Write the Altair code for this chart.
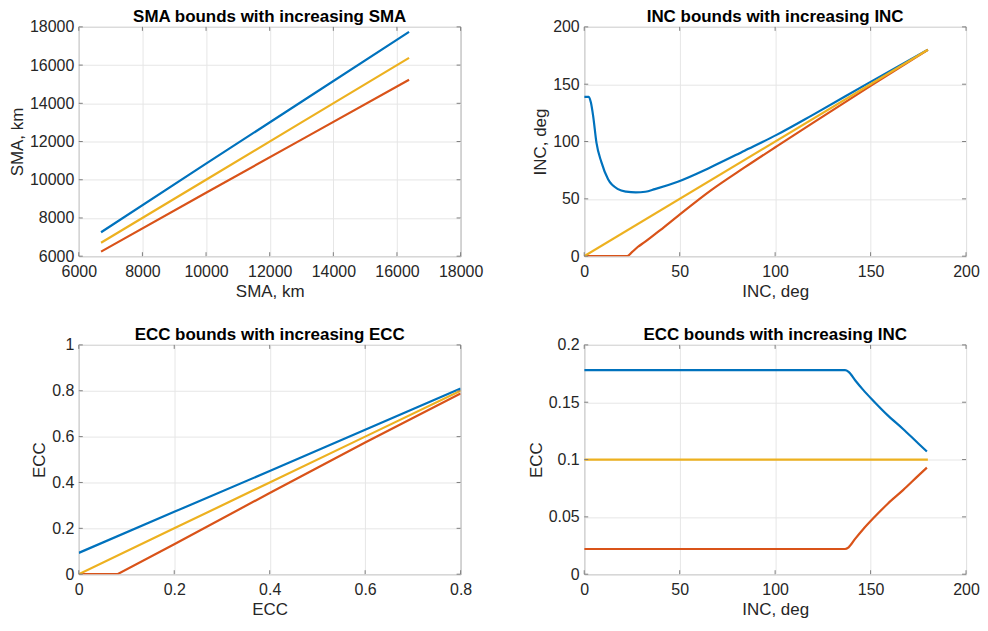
import altair as alt
import pandas as pd

# ---------------- data ----------------
# Panel 1: SMA bounds with increasing SMA
sma_x = [6700, 10000, 13000, 16380]
sma_upper = [7250, 10840, 14080, 17740]
sma_nominal = [6700, 10000, 13000, 16380]
sma_lower = [6240, 9320, 12100, 15235]

# Panel 2: INC bounds with increasing INC
inc_upper_x = [0, 2.4, 3.5, 4.7, 6.4, 9, 12.5, 17.7, 22, 27, 32, 37, 49, 66, 84, 101, 120, 150, 180]
inc_upper_y = [139, 139, 134, 122, 99, 82, 67, 58.5, 56.3, 55.6, 56.2, 58.5, 65, 77.4, 92, 106, 123.5, 152, 180]
inc_nominal_x = [0, 180]
inc_nominal_y = [0, 180]
inc_lower_x = [0, 22.5, 25, 28, 31.6, 40, 49, 66, 84, 101, 120, 150, 180]
inc_lower_y = [0, 0, 3.5, 8, 12.2, 23, 35, 57, 77.4, 96, 116.5, 148.5, 180]

# Panel 3: ECC bounds with increasing ECC
ecc_x = [0, 0.2, 0.4, 0.6, 0.8]
ecc_upper = [0.093, 0.272, 0.45, 0.63, 0.81]
ecc_nominal = [0, 0.2, 0.4, 0.6, 0.8]
ecc_lower_x = [0, 0.081, 0.2, 0.4, 0.6, 0.8]
ecc_lower = [0, 0, 0.131, 0.354, 0.574, 0.788]

# Panel 4: ECC bounds with increasing INC
ei_upper_x = [0, 136.6, 138.5, 142, 146, 151.4, 159, 167, 175, 179.5]
ei_upper_y = [0.178, 0.178, 0.1765, 0.169, 0.161, 0.1513, 0.1385, 0.1267, 0.114, 0.107]
ei_nominal_x = [0, 180]
ei_nominal_y = [0.1, 0.1]
ei_lower_x = [0, 136.6, 138.5, 142, 146, 151.4, 159, 167, 175, 179.5]
ei_lower_y = [0.022, 0.022, 0.0235, 0.031, 0.039, 0.0487, 0.0615, 0.0733, 0.086, 0.093]

# tick values
sma_ticks = [6000, 8000, 10000, 12000, 14000, 16000, 18000]
deg_ticks = [0, 50, 100, 150, 200]
ecc_xticks = [0, 0.2, 0.4, 0.6, 0.8]
ecc_yticks = [0, 0.2, 0.4, 0.6, 0.8, 1]
ei_yticks = [0, 0.05, 0.1, 0.15, 0.2]

# ---------------- styling ----------------
W, H = 383, 230
FONT = "Liberation Sans"
BLUE, RED, YEL = "#0072BD", "#D95319", "#EDB120"
BOX = "#808080"
TXT = "#262626"
GRID = "#e6e6e6"
TICK = 4
LABEL_EXPR = "'' + datum.value"


def panel(title, xtitle, ytitle, xdom, ydom, xticks, yticks, series, interp="linear"):
    xs = alt.Scale(domain=xdom, nice=False, zero=False)
    ys = alt.Scale(domain=ydom, nice=False, zero=False)
    xax = alt.Axis(values=xticks, labelExpr=LABEL_EXPR, title=xtitle, grid=True,
                   gridColor=GRID, ticks=False, domain=False,
                   labelFlush=False, labelOverlap=False,
                   labelPadding=7, titlePadding=4)
    yax = alt.Axis(values=yticks, labelExpr=LABEL_EXPR, title=ytitle, grid=True,
                   gridColor=GRID, ticks=False, domain=False,
                   labelFlush=False, labelOverlap=False,
                   labelPadding=5, titlePadding=3)
    layers = []
    for xs_, ys_, col in series:
        df = pd.DataFrame({"x": xs_, "y": ys_})
        layers.append(
            alt.Chart(df).mark_line(color=col, strokeWidth=2.2, clip=True,
                                    interpolate=interp).encode(
                x=alt.X("x:Q", scale=xs, axis=xax),
                y=alt.Y("y:Q", scale=ys, axis=yax),
            )
        )
    tx = pd.DataFrame({"x": xticks})
    ty = pd.DataFrame({"y": yticks})
    for a, b in [(H, H - TICK), (0, TICK)]:
        layers.append(
            alt.Chart(tx).mark_rule(color=BOX, strokeWidth=1).encode(
                x=alt.X("x:Q", scale=xs, axis=xax),
                y=alt.value(a), y2=alt.value(b),
            )
        )
    for a, b in [(0, TICK), (W, W - TICK)]:
        layers.append(
            alt.Chart(ty).mark_rule(color=BOX, strokeWidth=1).encode(
                y=alt.Y("y:Q", scale=ys, axis=yax),
                x=alt.value(a), x2=alt.value(b),
            )
        )
    return alt.layer(*layers).properties(
        width=W, height=H,
        title=alt.TitleParams(title, fontSize=17, fontWeight="bold",
                              font=FONT, color="#000000", offset=-7),
    )


p1 = panel("SMA bounds with increasing SMA", "SMA, km", "SMA, km",
           [6000, 18000], [6000, 18000], sma_ticks, sma_ticks,
           [(sma_x, sma_upper, BLUE), (sma_x, sma_lower, RED), (sma_x, sma_nominal, YEL)])
p2 = panel("INC bounds with increasing INC", "INC, deg", "INC, deg",
           [0, 200], [0, 200], deg_ticks, deg_ticks,
           [(inc_upper_x, inc_upper_y, BLUE), (inc_lower_x, inc_lower_y, RED),
            (inc_nominal_x, inc_nominal_y, YEL)], interp="monotone")
p3 = panel("ECC bounds with increasing ECC", "ECC", "ECC",
           [0, 0.8], [0, 1], ecc_xticks, ecc_yticks,
           [(ecc_x, ecc_upper, BLUE), (ecc_lower_x, ecc_lower, RED), (ecc_x, ecc_nominal, YEL)])
p4 = panel("ECC bounds with increasing INC", "INC, deg", "ECC",
           [0, 200], [0, 0.2], deg_ticks, ei_yticks,
           [(ei_upper_x, ei_upper_y, BLUE), (ei_lower_x, ei_lower_y, RED),
            (ei_nominal_x, ei_nominal_y, YEL)], interp="monotone")

chart = alt.concat(p1, p2, p3, p4, columns=2,
                   spacing=alt.RowColnumber(row=25, column=43)).configure_view(
    stroke=BOX, strokeWidth=1
).configure_axis(
    labelFont=FONT, labelFontSize=16, labelColor=TXT,
    titleFont=FONT, titleFontSize=17, titleColor=TXT, titleFontWeight="normal",
).properties(padding={"left": 0, "top": -2, "right": 0, "bottom": 0},
             background="white")

chart.save("out.html", embed_options={"renderer": "svg", "actions": False})
